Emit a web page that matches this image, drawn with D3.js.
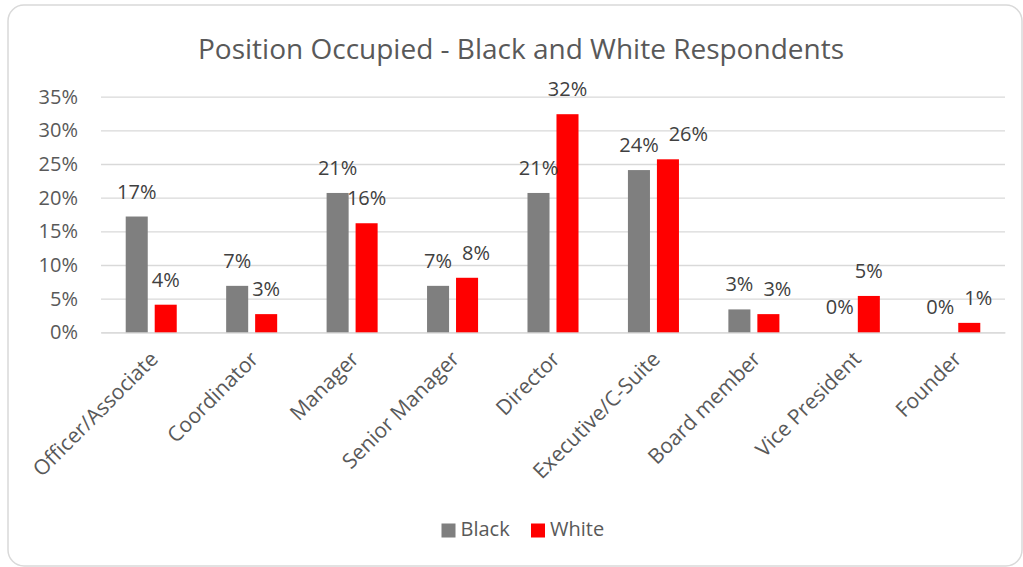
<!DOCTYPE html>
<html>
<head>
<meta charset="utf-8">
<script src="https://cdn.jsdelivr.net/npm/d3@7"></script>
<style>
  html, body { margin: 0; padding: 0; background: #fff; }
  svg { display: block; font-family: "Open Sans", "Noto Sans", sans-serif; }
</style>
</head>
<body>
<svg id="chart" width="1023" height="567"></svg>
<script>
// Share of respondents by position held (fractions of each group)
const categories = ["Officer/Associate", "Coordinator", "Manager", "Senior Manager", "Director",
                    "Executive/C-Suite", "Board member", "Vice President", "Founder"];
const seriesNames = ["Black", "White"];
const blackValues = [0.172, 0.069, 0.207, 0.069, 0.207, 0.241, 0.034, 0.0, 0.0];
const whiteValues = [0.041, 0.027, 0.162, 0.081, 0.324, 0.257, 0.027, 0.054, 0.014];
const yTicks = [0, 0.05, 0.10, 0.15, 0.20, 0.25, 0.30, 0.35];
const colors = { Black: "#7f7f7f", White: "#ff0000" };
const titleText = "Position Occupied - Black and White Respondents";

const svg = d3.select("#chart");
const plot = { left: 101, right: 1005, top: 96.7, bottom: 332.3 };

// Chart frame
svg.append("rect")
  .attr("x", 8).attr("y", 5)
  .attr("width", 1014).attr("height", 561)
  .attr("rx", 16).attr("ry", 16)
  .attr("fill", "#fff")
  .attr("stroke", "#d9d9d9").attr("stroke-width", 1.5);

// Title
svg.append("text")
  .attr("x", 521).attr("y", 59)
  .attr("text-anchor", "middle")
  .attr("fill", "#595959")
  .attr("font-size", 28)
  .text(titleText);

const x0 = d3.scaleBand()
  .domain(categories)
  .range([plot.left, plot.right])
  .paddingInner(0.492)
  .paddingOuter(0.246);

const x1 = d3.scaleBand()
  .domain(seriesNames)
  .range([0, x0.bandwidth()])
  .paddingInner(0.24);

const y = d3.scaleLinear()
  .domain([0, 0.35])
  .range([plot.bottom, plot.top]);

// Gridlines and value axis labels
const yAxis = d3.axisLeft(y)
  .tickValues(yTicks)
  .tickFormat(d3.format(".0%"))
  .tickSize(-(plot.right - plot.left))
  .tickPadding(23);

const gy = svg.append("g")
  .attr("transform", `translate(${plot.left},0)`)
  .call(yAxis);
gy.select(".domain").remove();
gy.selectAll(".tick line").attr("stroke", "#d9d9d9").attr("stroke-width", 1.3);
gy.selectAll(".tick text")
  .attr("fill", "#595959")
  .attr("font-size", 20)
  .attr("font-family", "\"Open Sans\", sans-serif");

// Category axis with slanted labels
const xAxis = d3.axisBottom(x0).tickSize(0).tickPadding(0);
const gx = svg.append("g")
  .attr("transform", `translate(0,${plot.bottom})`)
  .call(xAxis);
gx.select(".domain").attr("stroke", "#d9d9d9").attr("stroke-width", 1.3);
gx.selectAll(".tick text")
  .attr("fill", "#595959")
  .attr("font-size", 21)
  .attr("font-family", "\"Open Sans\", sans-serif")
  .attr("text-anchor", "end")
  .attr("dy", 0)
  .attr("transform", "translate(8,28) rotate(-45)");

// Bars
const rows = categories.map((c, i) => ({
  category: c,
  values: [
    { key: "Black", value: blackValues[i] },
    { key: "White", value: whiteValues[i] }
  ]
}));

const groups = svg.append("g").selectAll("g")
  .data(rows)
  .join("g")
  .attr("transform", d => `translate(${x0(d.category)},0)`);

groups.selectAll("rect")
  .data(d => d.values)
  .join("rect")
  .attr("x", d => x1(d.key))
  .attr("width", x1.bandwidth())
  .attr("y", d => y(d.value))
  .attr("height", d => y(0) - y(d.value))
  .attr("fill", d => colors[d.key]);

// Value labels above the bars
const pct = d3.format(".0%");
groups.selectAll("text")
  .data(d => d.values)
  .join("text")
  .attr("class", d => "vlabel " + d.key)
  .attr("x", d => x1(d.key) + x1.bandwidth() / 2)
  .attr("y", d => y(d.value) - 18)
  .attr("text-anchor", "middle")
  .attr("fill", "#404040")
  .attr("font-size", 20)
  .text(d => pct(d.value));

// Push the second label of a pair sideways when it collides with the first
groups.each(function () {
  const labels = d3.select(this).selectAll("text.vlabel").nodes();
  const a = labels[0].getBBox(), b = labels[1].getBBox();
  const vOverlap = a.y < b.y + b.height && b.y < a.y + a.height;
  const gap = 10;
  if (vOverlap && b.x < a.x + a.width + gap) {
    const shift = a.x + a.width + gap - b.x;
    const t = d3.select(labels[1]);
    t.attr("x", +t.attr("x") + shift);
  }
});

// Legend
const legend = svg.append("g").attr("transform", "translate(441.5,0)");
const legendItems = legend.selectAll("g")
  .data(seriesNames)
  .join("g")
  .attr("transform", (d, i) => `translate(${i * 89.5},0)`);
legendItems.append("rect")
  .attr("x", 0).attr("y", 523.5)
  .attr("width", 14).attr("height", 14)
  .attr("fill", d => colors[d]);
legendItems.append("text")
  .attr("x", 19).attr("y", 536)
  .attr("fill", "#595959")
  .attr("font-size", 20)
  .text(d => d);
</script>
</body>
</html>
